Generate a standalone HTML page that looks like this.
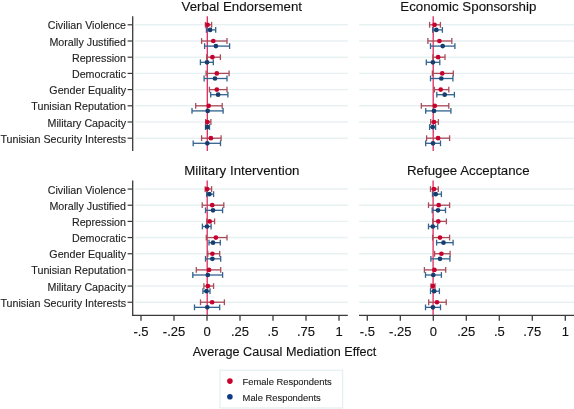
<!DOCTYPE html>
<html><head><meta charset="utf-8"><style>
html,body{margin:0;padding:0;background:#fff;width:574px;height:409px;overflow:hidden}
svg{display:block;filter:blur(0.35px);font-family:"Liberation Sans",sans-serif}
</style></head><body>
<svg width="574" height="409" viewBox="0 0 574 409">
<rect width="574" height="409" fill="#fff"/>
<text x="241.8" y="11.2" font-size="13.3" text-anchor="middle" fill="#111" stroke="#111" stroke-width="0.12">Verbal Endorsement</text>
<line x1="135" y1="24.8" x2="347.8" y2="24.8" stroke="#e8f1f2" stroke-width="1.4"/>
<line x1="135" y1="41.0" x2="347.8" y2="41.0" stroke="#e8f1f2" stroke-width="1.4"/>
<line x1="135" y1="57.2" x2="347.8" y2="57.2" stroke="#e8f1f2" stroke-width="1.4"/>
<line x1="135" y1="73.4" x2="347.8" y2="73.4" stroke="#e8f1f2" stroke-width="1.4"/>
<line x1="135" y1="89.6" x2="347.8" y2="89.6" stroke="#e8f1f2" stroke-width="1.4"/>
<line x1="135" y1="105.8" x2="347.8" y2="105.8" stroke="#e8f1f2" stroke-width="1.4"/>
<line x1="135" y1="122.0" x2="347.8" y2="122.0" stroke="#e8f1f2" stroke-width="1.4"/>
<line x1="135" y1="138.2" x2="347.8" y2="138.2" stroke="#e8f1f2" stroke-width="1.4"/>
<line x1="207.3" y1="16.3" x2="207.3" y2="151.1" stroke="#dc2a5c" stroke-width="1.3"/>
<line x1="205.4" y1="24.8" x2="211.6" y2="24.8" stroke="#a94b58" stroke-width="1.3"/>
<line x1="205.4" y1="21.900000000000002" x2="205.4" y2="27.7" stroke="#a94b58" stroke-width="1.3"/>
<line x1="211.6" y1="21.900000000000002" x2="211.6" y2="27.7" stroke="#a94b58" stroke-width="1.3"/>
<line x1="206.4" y1="29.9" x2="215.7" y2="29.9" stroke="#32628f" stroke-width="1.3"/>
<line x1="206.4" y1="27.0" x2="206.4" y2="32.8" stroke="#32628f" stroke-width="1.3"/>
<line x1="215.7" y1="27.0" x2="215.7" y2="32.8" stroke="#32628f" stroke-width="1.3"/>
<circle cx="207.6" cy="24.8" r="2.35" fill="#c8002e"/>
<circle cx="210.1" cy="29.9" r="2.35" fill="#163d6c"/>
<line x1="201.6" y1="41.0" x2="227" y2="41.0" stroke="#a94b58" stroke-width="1.3"/>
<line x1="201.6" y1="38.1" x2="201.6" y2="43.9" stroke="#a94b58" stroke-width="1.3"/>
<line x1="227" y1="38.1" x2="227" y2="43.9" stroke="#a94b58" stroke-width="1.3"/>
<line x1="204.6" y1="46.1" x2="229.6" y2="46.1" stroke="#32628f" stroke-width="1.3"/>
<line x1="204.6" y1="43.2" x2="204.6" y2="49.0" stroke="#32628f" stroke-width="1.3"/>
<line x1="229.6" y1="43.2" x2="229.6" y2="49.0" stroke="#32628f" stroke-width="1.3"/>
<circle cx="213.3" cy="41.0" r="2.35" fill="#c8002e"/>
<circle cx="215.9" cy="46.1" r="2.35" fill="#163d6c"/>
<line x1="206.7" y1="57.2" x2="220.4" y2="57.2" stroke="#a94b58" stroke-width="1.3"/>
<line x1="206.7" y1="54.300000000000004" x2="206.7" y2="60.1" stroke="#a94b58" stroke-width="1.3"/>
<line x1="220.4" y1="54.300000000000004" x2="220.4" y2="60.1" stroke="#a94b58" stroke-width="1.3"/>
<line x1="200.4" y1="62.3" x2="213.3" y2="62.3" stroke="#32628f" stroke-width="1.3"/>
<line x1="200.4" y1="59.4" x2="200.4" y2="65.2" stroke="#32628f" stroke-width="1.3"/>
<line x1="213.3" y1="59.4" x2="213.3" y2="65.2" stroke="#32628f" stroke-width="1.3"/>
<circle cx="212.4" cy="57.2" r="2.35" fill="#c8002e"/>
<circle cx="207" cy="62.3" r="2.35" fill="#163d6c"/>
<line x1="206.1" y1="73.4" x2="229.1" y2="73.4" stroke="#a94b58" stroke-width="1.3"/>
<line x1="206.1" y1="70.5" x2="206.1" y2="76.30000000000001" stroke="#a94b58" stroke-width="1.3"/>
<line x1="229.1" y1="70.5" x2="229.1" y2="76.30000000000001" stroke="#a94b58" stroke-width="1.3"/>
<line x1="204.1" y1="78.5" x2="227" y2="78.5" stroke="#32628f" stroke-width="1.3"/>
<line x1="204.1" y1="75.6" x2="204.1" y2="81.4" stroke="#32628f" stroke-width="1.3"/>
<line x1="227" y1="75.6" x2="227" y2="81.4" stroke="#32628f" stroke-width="1.3"/>
<circle cx="216.8" cy="73.4" r="2.35" fill="#c8002e"/>
<circle cx="215" cy="78.5" r="2.35" fill="#163d6c"/>
<line x1="209.4" y1="89.6" x2="227" y2="89.6" stroke="#a94b58" stroke-width="1.3"/>
<line x1="209.4" y1="86.69999999999999" x2="209.4" y2="92.5" stroke="#a94b58" stroke-width="1.3"/>
<line x1="227" y1="86.69999999999999" x2="227" y2="92.5" stroke="#a94b58" stroke-width="1.3"/>
<line x1="210.7" y1="94.7" x2="227.9" y2="94.7" stroke="#32628f" stroke-width="1.3"/>
<line x1="210.7" y1="91.8" x2="210.7" y2="97.60000000000001" stroke="#32628f" stroke-width="1.3"/>
<line x1="227.9" y1="91.8" x2="227.9" y2="97.60000000000001" stroke="#32628f" stroke-width="1.3"/>
<circle cx="216.8" cy="89.6" r="2.35" fill="#c8002e"/>
<circle cx="218.1" cy="94.7" r="2.35" fill="#163d6c"/>
<line x1="195.7" y1="105.8" x2="222.2" y2="105.8" stroke="#a94b58" stroke-width="1.3"/>
<line x1="195.7" y1="102.89999999999999" x2="195.7" y2="108.7" stroke="#a94b58" stroke-width="1.3"/>
<line x1="222.2" y1="102.89999999999999" x2="222.2" y2="108.7" stroke="#a94b58" stroke-width="1.3"/>
<line x1="192" y1="110.9" x2="223.1" y2="110.9" stroke="#32628f" stroke-width="1.3"/>
<line x1="192" y1="108.0" x2="192" y2="113.80000000000001" stroke="#32628f" stroke-width="1.3"/>
<line x1="223.1" y1="108.0" x2="223.1" y2="113.80000000000001" stroke="#32628f" stroke-width="1.3"/>
<circle cx="208.7" cy="105.8" r="2.35" fill="#c8002e"/>
<circle cx="207.7" cy="110.9" r="2.35" fill="#163d6c"/>
<line x1="205.7" y1="122.0" x2="210.9" y2="122.0" stroke="#a94b58" stroke-width="1.3"/>
<line x1="205.7" y1="119.1" x2="205.7" y2="124.9" stroke="#a94b58" stroke-width="1.3"/>
<line x1="210.9" y1="119.1" x2="210.9" y2="124.9" stroke="#a94b58" stroke-width="1.3"/>
<line x1="205.5" y1="127.1" x2="209.5" y2="127.1" stroke="#32628f" stroke-width="1.3"/>
<line x1="205.5" y1="124.19999999999999" x2="205.5" y2="130.0" stroke="#32628f" stroke-width="1.3"/>
<line x1="209.5" y1="124.19999999999999" x2="209.5" y2="130.0" stroke="#32628f" stroke-width="1.3"/>
<circle cx="207.4" cy="122.0" r="2.35" fill="#c8002e"/>
<circle cx="207.4" cy="127.1" r="2.35" fill="#163d6c"/>
<line x1="201.6" y1="138.2" x2="221.1" y2="138.2" stroke="#a94b58" stroke-width="1.3"/>
<line x1="201.6" y1="135.29999999999998" x2="201.6" y2="141.1" stroke="#a94b58" stroke-width="1.3"/>
<line x1="221.1" y1="135.29999999999998" x2="221.1" y2="141.1" stroke="#a94b58" stroke-width="1.3"/>
<line x1="193.2" y1="143.3" x2="220.5" y2="143.3" stroke="#32628f" stroke-width="1.3"/>
<line x1="193.2" y1="140.4" x2="193.2" y2="146.20000000000002" stroke="#32628f" stroke-width="1.3"/>
<line x1="220.5" y1="140.4" x2="220.5" y2="146.20000000000002" stroke="#32628f" stroke-width="1.3"/>
<circle cx="210.9" cy="138.2" r="2.35" fill="#c8002e"/>
<circle cx="207.3" cy="143.3" r="2.35" fill="#163d6c"/>
<line x1="132.7" y1="16.3" x2="132.7" y2="151.1" stroke="#3a3a3a" stroke-width="1.3"/>
<line x1="127.6" y1="24.8" x2="132.7" y2="24.8" stroke="#3a3a3a" stroke-width="1.2"/>
<text x="126" y="29.3" font-size="10.7" text-anchor="end" fill="#1e1e1e" stroke="#1e1e1e" stroke-width="0.12">Civilian Violence</text>
<line x1="127.6" y1="41.0" x2="132.7" y2="41.0" stroke="#3a3a3a" stroke-width="1.2"/>
<text x="126" y="45.5" font-size="10.7" text-anchor="end" fill="#1e1e1e" stroke="#1e1e1e" stroke-width="0.12">Morally Justified</text>
<line x1="127.6" y1="57.2" x2="132.7" y2="57.2" stroke="#3a3a3a" stroke-width="1.2"/>
<text x="126" y="61.7" font-size="10.7" text-anchor="end" fill="#1e1e1e" stroke="#1e1e1e" stroke-width="0.12">Repression</text>
<line x1="127.6" y1="73.4" x2="132.7" y2="73.4" stroke="#3a3a3a" stroke-width="1.2"/>
<text x="126" y="77.9" font-size="10.7" text-anchor="end" fill="#1e1e1e" stroke="#1e1e1e" stroke-width="0.12">Democratic</text>
<line x1="127.6" y1="89.6" x2="132.7" y2="89.6" stroke="#3a3a3a" stroke-width="1.2"/>
<text x="126" y="94.1" font-size="10.7" text-anchor="end" fill="#1e1e1e" stroke="#1e1e1e" stroke-width="0.12">Gender Equality</text>
<line x1="127.6" y1="105.8" x2="132.7" y2="105.8" stroke="#3a3a3a" stroke-width="1.2"/>
<text x="126" y="110.3" font-size="10.7" text-anchor="end" fill="#1e1e1e" stroke="#1e1e1e" stroke-width="0.12">Tunisian Reputation</text>
<line x1="127.6" y1="122.0" x2="132.7" y2="122.0" stroke="#3a3a3a" stroke-width="1.2"/>
<text x="126" y="126.5" font-size="10.7" text-anchor="end" fill="#1e1e1e" stroke="#1e1e1e" stroke-width="0.12">Military Capacity</text>
<line x1="127.6" y1="138.2" x2="132.7" y2="138.2" stroke="#3a3a3a" stroke-width="1.2"/>
<text x="126" y="142.7" font-size="10.7" text-anchor="end" fill="#1e1e1e" stroke="#1e1e1e" stroke-width="0.12">Tunisian Security Interests</text>
<text x="468.3" y="11.2" font-size="13.3" text-anchor="middle" fill="#111" stroke="#111" stroke-width="0.12">Economic Sponsorship</text>
<line x1="359" y1="24.8" x2="574" y2="24.8" stroke="#e8f1f2" stroke-width="1.4"/>
<line x1="359" y1="41.0" x2="574" y2="41.0" stroke="#e8f1f2" stroke-width="1.4"/>
<line x1="359" y1="57.2" x2="574" y2="57.2" stroke="#e8f1f2" stroke-width="1.4"/>
<line x1="359" y1="73.4" x2="574" y2="73.4" stroke="#e8f1f2" stroke-width="1.4"/>
<line x1="359" y1="89.6" x2="574" y2="89.6" stroke="#e8f1f2" stroke-width="1.4"/>
<line x1="359" y1="105.8" x2="574" y2="105.8" stroke="#e8f1f2" stroke-width="1.4"/>
<line x1="359" y1="122.0" x2="574" y2="122.0" stroke="#e8f1f2" stroke-width="1.4"/>
<line x1="359" y1="138.2" x2="574" y2="138.2" stroke="#e8f1f2" stroke-width="1.4"/>
<line x1="433.2" y1="16.3" x2="433.2" y2="151.1" stroke="#dc2a5c" stroke-width="1.3"/>
<line x1="429.6" y1="24.8" x2="440.4" y2="24.8" stroke="#a94b58" stroke-width="1.3"/>
<line x1="429.6" y1="21.900000000000002" x2="429.6" y2="27.7" stroke="#a94b58" stroke-width="1.3"/>
<line x1="440.4" y1="21.900000000000002" x2="440.4" y2="27.7" stroke="#a94b58" stroke-width="1.3"/>
<line x1="432.7" y1="29.9" x2="442.4" y2="29.9" stroke="#32628f" stroke-width="1.3"/>
<line x1="432.7" y1="27.0" x2="432.7" y2="32.8" stroke="#32628f" stroke-width="1.3"/>
<line x1="442.4" y1="27.0" x2="442.4" y2="32.8" stroke="#32628f" stroke-width="1.3"/>
<circle cx="434.6" cy="24.8" r="2.35" fill="#c8002e"/>
<circle cx="436.3" cy="29.9" r="2.35" fill="#163d6c"/>
<line x1="427.9" y1="41.0" x2="451.8" y2="41.0" stroke="#a94b58" stroke-width="1.3"/>
<line x1="427.9" y1="38.1" x2="427.9" y2="43.9" stroke="#a94b58" stroke-width="1.3"/>
<line x1="451.8" y1="38.1" x2="451.8" y2="43.9" stroke="#a94b58" stroke-width="1.3"/>
<line x1="430.5" y1="46.1" x2="454.9" y2="46.1" stroke="#32628f" stroke-width="1.3"/>
<line x1="430.5" y1="43.2" x2="430.5" y2="49.0" stroke="#32628f" stroke-width="1.3"/>
<line x1="454.9" y1="43.2" x2="454.9" y2="49.0" stroke="#32628f" stroke-width="1.3"/>
<circle cx="439.4" cy="41.0" r="2.35" fill="#c8002e"/>
<circle cx="442.7" cy="46.1" r="2.35" fill="#163d6c"/>
<line x1="432.9" y1="57.2" x2="445" y2="57.2" stroke="#a94b58" stroke-width="1.3"/>
<line x1="432.9" y1="54.300000000000004" x2="432.9" y2="60.1" stroke="#a94b58" stroke-width="1.3"/>
<line x1="445" y1="54.300000000000004" x2="445" y2="60.1" stroke="#a94b58" stroke-width="1.3"/>
<line x1="426.3" y1="62.3" x2="439.8" y2="62.3" stroke="#32628f" stroke-width="1.3"/>
<line x1="426.3" y1="59.4" x2="426.3" y2="65.2" stroke="#32628f" stroke-width="1.3"/>
<line x1="439.8" y1="59.4" x2="439.8" y2="65.2" stroke="#32628f" stroke-width="1.3"/>
<circle cx="438.1" cy="57.2" r="2.35" fill="#c8002e"/>
<circle cx="432.9" cy="62.3" r="2.35" fill="#163d6c"/>
<line x1="432.4" y1="73.4" x2="453.3" y2="73.4" stroke="#a94b58" stroke-width="1.3"/>
<line x1="432.4" y1="70.5" x2="432.4" y2="76.30000000000001" stroke="#a94b58" stroke-width="1.3"/>
<line x1="453.3" y1="70.5" x2="453.3" y2="76.30000000000001" stroke="#a94b58" stroke-width="1.3"/>
<line x1="430.5" y1="78.5" x2="452.9" y2="78.5" stroke="#32628f" stroke-width="1.3"/>
<line x1="430.5" y1="75.6" x2="430.5" y2="81.4" stroke="#32628f" stroke-width="1.3"/>
<line x1="452.9" y1="75.6" x2="452.9" y2="81.4" stroke="#32628f" stroke-width="1.3"/>
<circle cx="442.2" cy="73.4" r="2.35" fill="#c8002e"/>
<circle cx="441.3" cy="78.5" r="2.35" fill="#163d6c"/>
<line x1="434.4" y1="89.6" x2="448.8" y2="89.6" stroke="#a94b58" stroke-width="1.3"/>
<line x1="434.4" y1="86.69999999999999" x2="434.4" y2="92.5" stroke="#a94b58" stroke-width="1.3"/>
<line x1="448.8" y1="86.69999999999999" x2="448.8" y2="92.5" stroke="#a94b58" stroke-width="1.3"/>
<line x1="436.8" y1="94.7" x2="454.4" y2="94.7" stroke="#32628f" stroke-width="1.3"/>
<line x1="436.8" y1="91.8" x2="436.8" y2="97.60000000000001" stroke="#32628f" stroke-width="1.3"/>
<line x1="454.4" y1="91.8" x2="454.4" y2="97.60000000000001" stroke="#32628f" stroke-width="1.3"/>
<circle cx="440.7" cy="89.6" r="2.35" fill="#c8002e"/>
<circle cx="444.7" cy="94.7" r="2.35" fill="#163d6c"/>
<line x1="421.3" y1="105.8" x2="448.8" y2="105.8" stroke="#a94b58" stroke-width="1.3"/>
<line x1="421.3" y1="102.89999999999999" x2="421.3" y2="108.7" stroke="#a94b58" stroke-width="1.3"/>
<line x1="448.8" y1="102.89999999999999" x2="448.8" y2="108.7" stroke="#a94b58" stroke-width="1.3"/>
<line x1="425.7" y1="110.9" x2="450.9" y2="110.9" stroke="#32628f" stroke-width="1.3"/>
<line x1="425.7" y1="108.0" x2="425.7" y2="113.80000000000001" stroke="#32628f" stroke-width="1.3"/>
<line x1="450.9" y1="108.0" x2="450.9" y2="113.80000000000001" stroke="#32628f" stroke-width="1.3"/>
<circle cx="434.8" cy="105.8" r="2.35" fill="#c8002e"/>
<circle cx="434" cy="110.9" r="2.35" fill="#163d6c"/>
<line x1="430.7" y1="122.0" x2="438.4" y2="122.0" stroke="#a94b58" stroke-width="1.3"/>
<line x1="430.7" y1="119.1" x2="430.7" y2="124.9" stroke="#a94b58" stroke-width="1.3"/>
<line x1="438.4" y1="119.1" x2="438.4" y2="124.9" stroke="#a94b58" stroke-width="1.3"/>
<line x1="429.6" y1="127.1" x2="435.6" y2="127.1" stroke="#32628f" stroke-width="1.3"/>
<line x1="429.6" y1="124.19999999999999" x2="429.6" y2="130.0" stroke="#32628f" stroke-width="1.3"/>
<line x1="435.6" y1="124.19999999999999" x2="435.6" y2="130.0" stroke="#32628f" stroke-width="1.3"/>
<circle cx="434" cy="122.0" r="2.35" fill="#c8002e"/>
<circle cx="432.7" cy="127.1" r="2.35" fill="#163d6c"/>
<line x1="426.6" y1="138.2" x2="449.6" y2="138.2" stroke="#a94b58" stroke-width="1.3"/>
<line x1="426.6" y1="135.29999999999998" x2="426.6" y2="141.1" stroke="#a94b58" stroke-width="1.3"/>
<line x1="449.6" y1="135.29999999999998" x2="449.6" y2="141.1" stroke="#a94b58" stroke-width="1.3"/>
<line x1="425.7" y1="143.3" x2="440.5" y2="143.3" stroke="#32628f" stroke-width="1.3"/>
<line x1="425.7" y1="140.4" x2="425.7" y2="146.20000000000002" stroke="#32628f" stroke-width="1.3"/>
<line x1="440.5" y1="140.4" x2="440.5" y2="146.20000000000002" stroke="#32628f" stroke-width="1.3"/>
<circle cx="438.1" cy="138.2" r="2.35" fill="#c8002e"/>
<circle cx="433" cy="143.3" r="2.35" fill="#163d6c"/>
<text x="241.8" y="175.2" font-size="13.3" text-anchor="middle" fill="#111" stroke="#111" stroke-width="0.12">Military Intervention</text>
<line x1="135" y1="189.05" x2="347.8" y2="189.05" stroke="#e8f1f2" stroke-width="1.4"/>
<line x1="135" y1="205.22" x2="347.8" y2="205.22" stroke="#e8f1f2" stroke-width="1.4"/>
<line x1="135" y1="221.39" x2="347.8" y2="221.39" stroke="#e8f1f2" stroke-width="1.4"/>
<line x1="135" y1="237.56" x2="347.8" y2="237.56" stroke="#e8f1f2" stroke-width="1.4"/>
<line x1="135" y1="253.73" x2="347.8" y2="253.73" stroke="#e8f1f2" stroke-width="1.4"/>
<line x1="135" y1="269.9" x2="347.8" y2="269.9" stroke="#e8f1f2" stroke-width="1.4"/>
<line x1="135" y1="286.07" x2="347.8" y2="286.07" stroke="#e8f1f2" stroke-width="1.4"/>
<line x1="135" y1="302.24" x2="347.8" y2="302.24" stroke="#e8f1f2" stroke-width="1.4"/>
<line x1="207.2" y1="180.4" x2="207.2" y2="315.4" stroke="#dc2a5c" stroke-width="1.3"/>
<line x1="205.2" y1="189.05" x2="211.6" y2="189.05" stroke="#a94b58" stroke-width="1.3"/>
<line x1="205.2" y1="186.15" x2="205.2" y2="191.95000000000002" stroke="#a94b58" stroke-width="1.3"/>
<line x1="211.6" y1="186.15" x2="211.6" y2="191.95000000000002" stroke="#a94b58" stroke-width="1.3"/>
<line x1="206.6" y1="194.15" x2="213.6" y2="194.15" stroke="#32628f" stroke-width="1.3"/>
<line x1="206.6" y1="191.25" x2="206.6" y2="197.05" stroke="#32628f" stroke-width="1.3"/>
<line x1="213.6" y1="191.25" x2="213.6" y2="197.05" stroke="#32628f" stroke-width="1.3"/>
<circle cx="207.2" cy="189.05" r="2.35" fill="#c8002e"/>
<circle cx="209.4" cy="194.15" r="2.35" fill="#163d6c"/>
<line x1="202.2" y1="205.22" x2="223.8" y2="205.22" stroke="#a94b58" stroke-width="1.3"/>
<line x1="202.2" y1="202.32" x2="202.2" y2="208.12" stroke="#a94b58" stroke-width="1.3"/>
<line x1="223.8" y1="202.32" x2="223.8" y2="208.12" stroke="#a94b58" stroke-width="1.3"/>
<line x1="205.5" y1="210.32" x2="222.6" y2="210.32" stroke="#32628f" stroke-width="1.3"/>
<line x1="205.5" y1="207.42" x2="205.5" y2="213.22" stroke="#32628f" stroke-width="1.3"/>
<line x1="222.6" y1="207.42" x2="222.6" y2="213.22" stroke="#32628f" stroke-width="1.3"/>
<circle cx="212.2" cy="205.22" r="2.35" fill="#c8002e"/>
<circle cx="213" cy="210.32" r="2.35" fill="#163d6c"/>
<line x1="206.8" y1="221.39" x2="214.6" y2="221.39" stroke="#a94b58" stroke-width="1.3"/>
<line x1="206.8" y1="218.48999999999998" x2="206.8" y2="224.29" stroke="#a94b58" stroke-width="1.3"/>
<line x1="214.6" y1="218.48999999999998" x2="214.6" y2="224.29" stroke="#a94b58" stroke-width="1.3"/>
<line x1="202.4" y1="226.49" x2="211.1" y2="226.49" stroke="#32628f" stroke-width="1.3"/>
<line x1="202.4" y1="223.59" x2="202.4" y2="229.39000000000001" stroke="#32628f" stroke-width="1.3"/>
<line x1="211.1" y1="223.59" x2="211.1" y2="229.39000000000001" stroke="#32628f" stroke-width="1.3"/>
<circle cx="209.7" cy="221.39" r="2.35" fill="#c8002e"/>
<circle cx="207" cy="226.49" r="2.35" fill="#163d6c"/>
<line x1="206.3" y1="237.56" x2="227" y2="237.56" stroke="#a94b58" stroke-width="1.3"/>
<line x1="206.3" y1="234.66" x2="206.3" y2="240.46" stroke="#a94b58" stroke-width="1.3"/>
<line x1="227" y1="234.66" x2="227" y2="240.46" stroke="#a94b58" stroke-width="1.3"/>
<line x1="209" y1="242.66" x2="220.3" y2="242.66" stroke="#32628f" stroke-width="1.3"/>
<line x1="209" y1="239.76" x2="209" y2="245.56" stroke="#32628f" stroke-width="1.3"/>
<line x1="220.3" y1="239.76" x2="220.3" y2="245.56" stroke="#32628f" stroke-width="1.3"/>
<circle cx="215.9" cy="237.56" r="2.35" fill="#c8002e"/>
<circle cx="213" cy="242.66" r="2.35" fill="#163d6c"/>
<line x1="207.8" y1="253.73" x2="219.7" y2="253.73" stroke="#a94b58" stroke-width="1.3"/>
<line x1="207.8" y1="250.82999999999998" x2="207.8" y2="256.63" stroke="#a94b58" stroke-width="1.3"/>
<line x1="219.7" y1="250.82999999999998" x2="219.7" y2="256.63" stroke="#a94b58" stroke-width="1.3"/>
<line x1="205.5" y1="258.83" x2="220.7" y2="258.83" stroke="#32628f" stroke-width="1.3"/>
<line x1="205.5" y1="255.92999999999998" x2="205.5" y2="261.72999999999996" stroke="#32628f" stroke-width="1.3"/>
<line x1="220.7" y1="255.92999999999998" x2="220.7" y2="261.72999999999996" stroke="#32628f" stroke-width="1.3"/>
<circle cx="212.4" cy="253.73" r="2.35" fill="#c8002e"/>
<circle cx="212.4" cy="258.83" r="2.35" fill="#163d6c"/>
<line x1="196.3" y1="269.9" x2="220.7" y2="269.9" stroke="#a94b58" stroke-width="1.3"/>
<line x1="196.3" y1="267.0" x2="196.3" y2="272.79999999999995" stroke="#a94b58" stroke-width="1.3"/>
<line x1="220.7" y1="267.0" x2="220.7" y2="272.79999999999995" stroke="#a94b58" stroke-width="1.3"/>
<line x1="192.8" y1="275.0" x2="222.6" y2="275.0" stroke="#32628f" stroke-width="1.3"/>
<line x1="192.8" y1="272.1" x2="192.8" y2="277.9" stroke="#32628f" stroke-width="1.3"/>
<line x1="222.6" y1="272.1" x2="222.6" y2="277.9" stroke="#32628f" stroke-width="1.3"/>
<circle cx="209" cy="269.9" r="2.35" fill="#c8002e"/>
<circle cx="207.8" cy="275.0" r="2.35" fill="#163d6c"/>
<line x1="203.9" y1="286.07" x2="213.6" y2="286.07" stroke="#a94b58" stroke-width="1.3"/>
<line x1="203.9" y1="283.17" x2="203.9" y2="288.96999999999997" stroke="#a94b58" stroke-width="1.3"/>
<line x1="213.6" y1="283.17" x2="213.6" y2="288.96999999999997" stroke="#a94b58" stroke-width="1.3"/>
<line x1="202.9" y1="291.17" x2="210" y2="291.17" stroke="#32628f" stroke-width="1.3"/>
<line x1="202.9" y1="288.27000000000004" x2="202.9" y2="294.07" stroke="#32628f" stroke-width="1.3"/>
<line x1="210" y1="288.27000000000004" x2="210" y2="294.07" stroke="#32628f" stroke-width="1.3"/>
<circle cx="207.9" cy="286.07" r="2.35" fill="#c8002e"/>
<circle cx="206.5" cy="291.17" r="2.35" fill="#163d6c"/>
<line x1="200.5" y1="302.24" x2="224.4" y2="302.24" stroke="#a94b58" stroke-width="1.3"/>
<line x1="200.5" y1="299.34000000000003" x2="200.5" y2="305.14" stroke="#a94b58" stroke-width="1.3"/>
<line x1="224.4" y1="299.34000000000003" x2="224.4" y2="305.14" stroke="#a94b58" stroke-width="1.3"/>
<line x1="194.5" y1="307.34" x2="219.7" y2="307.34" stroke="#32628f" stroke-width="1.3"/>
<line x1="194.5" y1="304.44" x2="194.5" y2="310.23999999999995" stroke="#32628f" stroke-width="1.3"/>
<line x1="219.7" y1="304.44" x2="219.7" y2="310.23999999999995" stroke="#32628f" stroke-width="1.3"/>
<circle cx="212.1" cy="302.24" r="2.35" fill="#c8002e"/>
<circle cx="207.3" cy="307.34" r="2.35" fill="#163d6c"/>
<line x1="132.7" y1="180.4" x2="132.7" y2="316.04999999999995" stroke="#3a3a3a" stroke-width="1.3"/>
<line x1="127.6" y1="189.05" x2="132.7" y2="189.05" stroke="#3a3a3a" stroke-width="1.2"/>
<text x="126" y="193.55" font-size="10.7" text-anchor="end" fill="#1e1e1e" stroke="#1e1e1e" stroke-width="0.12">Civilian Violence</text>
<line x1="127.6" y1="205.22" x2="132.7" y2="205.22" stroke="#3a3a3a" stroke-width="1.2"/>
<text x="126" y="209.72" font-size="10.7" text-anchor="end" fill="#1e1e1e" stroke="#1e1e1e" stroke-width="0.12">Morally Justified</text>
<line x1="127.6" y1="221.39" x2="132.7" y2="221.39" stroke="#3a3a3a" stroke-width="1.2"/>
<text x="126" y="225.89" font-size="10.7" text-anchor="end" fill="#1e1e1e" stroke="#1e1e1e" stroke-width="0.12">Repression</text>
<line x1="127.6" y1="237.56" x2="132.7" y2="237.56" stroke="#3a3a3a" stroke-width="1.2"/>
<text x="126" y="242.06" font-size="10.7" text-anchor="end" fill="#1e1e1e" stroke="#1e1e1e" stroke-width="0.12">Democratic</text>
<line x1="127.6" y1="253.73" x2="132.7" y2="253.73" stroke="#3a3a3a" stroke-width="1.2"/>
<text x="126" y="258.23" font-size="10.7" text-anchor="end" fill="#1e1e1e" stroke="#1e1e1e" stroke-width="0.12">Gender Equality</text>
<line x1="127.6" y1="269.9" x2="132.7" y2="269.9" stroke="#3a3a3a" stroke-width="1.2"/>
<text x="126" y="274.4" font-size="10.7" text-anchor="end" fill="#1e1e1e" stroke="#1e1e1e" stroke-width="0.12">Tunisian Reputation</text>
<line x1="127.6" y1="286.07" x2="132.7" y2="286.07" stroke="#3a3a3a" stroke-width="1.2"/>
<text x="126" y="290.57" font-size="10.7" text-anchor="end" fill="#1e1e1e" stroke="#1e1e1e" stroke-width="0.12">Military Capacity</text>
<line x1="127.6" y1="302.24" x2="132.7" y2="302.24" stroke="#3a3a3a" stroke-width="1.2"/>
<text x="126" y="306.74" font-size="10.7" text-anchor="end" fill="#1e1e1e" stroke="#1e1e1e" stroke-width="0.12">Tunisian Security Interests</text>
<line x1="132.05" y1="315.4" x2="347.8" y2="315.4" stroke="#3a3a3a" stroke-width="1.3"/>
<line x1="141" y1="315.4" x2="141" y2="320.7" stroke="#3a3a3a" stroke-width="1.3"/>
<text x="141" y="336.2" font-size="13" text-anchor="middle" fill="#111" stroke="#111" stroke-width="0.12">-.5</text>
<line x1="174" y1="315.4" x2="174" y2="320.7" stroke="#3a3a3a" stroke-width="1.3"/>
<text x="174" y="336.2" font-size="13" text-anchor="middle" fill="#111" stroke="#111" stroke-width="0.12">-.25</text>
<line x1="207" y1="315.4" x2="207" y2="320.7" stroke="#3a3a3a" stroke-width="1.3"/>
<text x="207" y="336.2" font-size="13" text-anchor="middle" fill="#111" stroke="#111" stroke-width="0.12">0</text>
<line x1="240" y1="315.4" x2="240" y2="320.7" stroke="#3a3a3a" stroke-width="1.3"/>
<text x="240" y="336.2" font-size="13" text-anchor="middle" fill="#111" stroke="#111" stroke-width="0.12">.25</text>
<line x1="273" y1="315.4" x2="273" y2="320.7" stroke="#3a3a3a" stroke-width="1.3"/>
<text x="273" y="336.2" font-size="13" text-anchor="middle" fill="#111" stroke="#111" stroke-width="0.12">.5</text>
<line x1="306" y1="315.4" x2="306" y2="320.7" stroke="#3a3a3a" stroke-width="1.3"/>
<text x="306" y="336.2" font-size="13" text-anchor="middle" fill="#111" stroke="#111" stroke-width="0.12">.75</text>
<line x1="339" y1="315.4" x2="339" y2="320.7" stroke="#3a3a3a" stroke-width="1.3"/>
<text x="339" y="336.2" font-size="13" text-anchor="middle" fill="#111" stroke="#111" stroke-width="0.12">1</text>
<text x="468.3" y="175.2" font-size="13.3" text-anchor="middle" fill="#111" stroke="#111" stroke-width="0.12">Refugee Acceptance</text>
<line x1="359" y1="189.05" x2="574" y2="189.05" stroke="#e8f1f2" stroke-width="1.4"/>
<line x1="359" y1="205.22" x2="574" y2="205.22" stroke="#e8f1f2" stroke-width="1.4"/>
<line x1="359" y1="221.39" x2="574" y2="221.39" stroke="#e8f1f2" stroke-width="1.4"/>
<line x1="359" y1="237.56" x2="574" y2="237.56" stroke="#e8f1f2" stroke-width="1.4"/>
<line x1="359" y1="253.73" x2="574" y2="253.73" stroke="#e8f1f2" stroke-width="1.4"/>
<line x1="359" y1="269.9" x2="574" y2="269.9" stroke="#e8f1f2" stroke-width="1.4"/>
<line x1="359" y1="286.07" x2="574" y2="286.07" stroke="#e8f1f2" stroke-width="1.4"/>
<line x1="359" y1="302.24" x2="574" y2="302.24" stroke="#e8f1f2" stroke-width="1.4"/>
<line x1="433.1" y1="180.4" x2="433.1" y2="315.4" stroke="#dc2a5c" stroke-width="1.3"/>
<line x1="430.5" y1="189.05" x2="438.3" y2="189.05" stroke="#a94b58" stroke-width="1.3"/>
<line x1="430.5" y1="186.15" x2="430.5" y2="191.95000000000002" stroke="#a94b58" stroke-width="1.3"/>
<line x1="438.3" y1="186.15" x2="438.3" y2="191.95000000000002" stroke="#a94b58" stroke-width="1.3"/>
<line x1="432.5" y1="194.15" x2="441.4" y2="194.15" stroke="#32628f" stroke-width="1.3"/>
<line x1="432.5" y1="191.25" x2="432.5" y2="197.05" stroke="#32628f" stroke-width="1.3"/>
<line x1="441.4" y1="191.25" x2="441.4" y2="197.05" stroke="#32628f" stroke-width="1.3"/>
<circle cx="434" cy="189.05" r="2.35" fill="#c8002e"/>
<circle cx="435.7" cy="194.15" r="2.35" fill="#163d6c"/>
<line x1="428.5" y1="205.22" x2="449.6" y2="205.22" stroke="#a94b58" stroke-width="1.3"/>
<line x1="428.5" y1="202.32" x2="428.5" y2="208.12" stroke="#a94b58" stroke-width="1.3"/>
<line x1="449.6" y1="202.32" x2="449.6" y2="208.12" stroke="#a94b58" stroke-width="1.3"/>
<line x1="432.2" y1="210.32" x2="445.5" y2="210.32" stroke="#32628f" stroke-width="1.3"/>
<line x1="432.2" y1="207.42" x2="432.2" y2="213.22" stroke="#32628f" stroke-width="1.3"/>
<line x1="445.5" y1="207.42" x2="445.5" y2="213.22" stroke="#32628f" stroke-width="1.3"/>
<circle cx="438.7" cy="205.22" r="2.35" fill="#c8002e"/>
<circle cx="438" cy="210.32" r="2.35" fill="#163d6c"/>
<line x1="432.8" y1="221.39" x2="446.4" y2="221.39" stroke="#a94b58" stroke-width="1.3"/>
<line x1="432.8" y1="218.48999999999998" x2="432.8" y2="224.29" stroke="#a94b58" stroke-width="1.3"/>
<line x1="446.4" y1="218.48999999999998" x2="446.4" y2="224.29" stroke="#a94b58" stroke-width="1.3"/>
<line x1="428.5" y1="226.49" x2="437.7" y2="226.49" stroke="#32628f" stroke-width="1.3"/>
<line x1="428.5" y1="223.59" x2="428.5" y2="229.39000000000001" stroke="#32628f" stroke-width="1.3"/>
<line x1="437.7" y1="223.59" x2="437.7" y2="229.39000000000001" stroke="#32628f" stroke-width="1.3"/>
<circle cx="438.3" cy="221.39" r="2.35" fill="#c8002e"/>
<circle cx="432.8" cy="226.49" r="2.35" fill="#163d6c"/>
<line x1="432.6" y1="237.56" x2="449.6" y2="237.56" stroke="#a94b58" stroke-width="1.3"/>
<line x1="432.6" y1="234.66" x2="432.6" y2="240.46" stroke="#a94b58" stroke-width="1.3"/>
<line x1="449.6" y1="234.66" x2="449.6" y2="240.46" stroke="#a94b58" stroke-width="1.3"/>
<line x1="436.6" y1="242.66" x2="453.1" y2="242.66" stroke="#32628f" stroke-width="1.3"/>
<line x1="436.6" y1="239.76" x2="436.6" y2="245.56" stroke="#32628f" stroke-width="1.3"/>
<line x1="453.1" y1="239.76" x2="453.1" y2="245.56" stroke="#32628f" stroke-width="1.3"/>
<circle cx="440" cy="237.56" r="2.35" fill="#c8002e"/>
<circle cx="443.5" cy="242.66" r="2.35" fill="#163d6c"/>
<line x1="434.6" y1="253.73" x2="450.1" y2="253.73" stroke="#a94b58" stroke-width="1.3"/>
<line x1="434.6" y1="250.82999999999998" x2="434.6" y2="256.63" stroke="#a94b58" stroke-width="1.3"/>
<line x1="450.1" y1="250.82999999999998" x2="450.1" y2="256.63" stroke="#a94b58" stroke-width="1.3"/>
<line x1="430.9" y1="258.83" x2="449.9" y2="258.83" stroke="#32628f" stroke-width="1.3"/>
<line x1="430.9" y1="255.92999999999998" x2="430.9" y2="261.72999999999996" stroke="#32628f" stroke-width="1.3"/>
<line x1="449.9" y1="255.92999999999998" x2="449.9" y2="261.72999999999996" stroke="#32628f" stroke-width="1.3"/>
<circle cx="441.4" cy="253.73" r="2.35" fill="#c8002e"/>
<circle cx="440" cy="258.83" r="2.35" fill="#163d6c"/>
<line x1="424.4" y1="269.9" x2="445.7" y2="269.9" stroke="#a94b58" stroke-width="1.3"/>
<line x1="424.4" y1="267.0" x2="424.4" y2="272.79999999999995" stroke="#a94b58" stroke-width="1.3"/>
<line x1="445.7" y1="267.0" x2="445.7" y2="272.79999999999995" stroke="#a94b58" stroke-width="1.3"/>
<line x1="425.5" y1="275.0" x2="441.4" y2="275.0" stroke="#32628f" stroke-width="1.3"/>
<line x1="425.5" y1="272.1" x2="425.5" y2="277.9" stroke="#32628f" stroke-width="1.3"/>
<line x1="441.4" y1="272.1" x2="441.4" y2="277.9" stroke="#32628f" stroke-width="1.3"/>
<circle cx="434.4" cy="269.9" r="2.35" fill="#c8002e"/>
<circle cx="433.3" cy="275.0" r="2.35" fill="#163d6c"/>
<line x1="431" y1="286.07" x2="435" y2="286.07" stroke="#a94b58" stroke-width="1.3"/>
<line x1="431" y1="283.17" x2="431" y2="288.96999999999997" stroke="#a94b58" stroke-width="1.3"/>
<line x1="435" y1="283.17" x2="435" y2="288.96999999999997" stroke="#a94b58" stroke-width="1.3"/>
<line x1="430.5" y1="291.17" x2="439.4" y2="291.17" stroke="#32628f" stroke-width="1.3"/>
<line x1="430.5" y1="288.27000000000004" x2="430.5" y2="294.07" stroke="#32628f" stroke-width="1.3"/>
<line x1="439.4" y1="288.27000000000004" x2="439.4" y2="294.07" stroke="#32628f" stroke-width="1.3"/>
<circle cx="432.8" cy="286.07" r="2.35" fill="#c8002e"/>
<circle cx="434.2" cy="291.17" r="2.35" fill="#163d6c"/>
<line x1="428.7" y1="302.24" x2="446.2" y2="302.24" stroke="#a94b58" stroke-width="1.3"/>
<line x1="428.7" y1="299.34000000000003" x2="428.7" y2="305.14" stroke="#a94b58" stroke-width="1.3"/>
<line x1="446.2" y1="299.34000000000003" x2="446.2" y2="305.14" stroke="#a94b58" stroke-width="1.3"/>
<line x1="425.5" y1="307.34" x2="440.5" y2="307.34" stroke="#32628f" stroke-width="1.3"/>
<line x1="425.5" y1="304.44" x2="425.5" y2="310.23999999999995" stroke="#32628f" stroke-width="1.3"/>
<line x1="440.5" y1="304.44" x2="440.5" y2="310.23999999999995" stroke="#32628f" stroke-width="1.3"/>
<circle cx="437" cy="302.24" r="2.35" fill="#c8002e"/>
<circle cx="432.9" cy="307.34" r="2.35" fill="#163d6c"/>
<line x1="359" y1="315.4" x2="574" y2="315.4" stroke="#3a3a3a" stroke-width="1.3"/>
<line x1="367.3" y1="315.4" x2="367.3" y2="320.7" stroke="#3a3a3a" stroke-width="1.3"/>
<text x="367.3" y="336.2" font-size="13" text-anchor="middle" fill="#111" stroke="#111" stroke-width="0.12">-.5</text>
<line x1="400.3" y1="315.4" x2="400.3" y2="320.7" stroke="#3a3a3a" stroke-width="1.3"/>
<text x="400.3" y="336.2" font-size="13" text-anchor="middle" fill="#111" stroke="#111" stroke-width="0.12">-.25</text>
<line x1="433.3" y1="315.4" x2="433.3" y2="320.7" stroke="#3a3a3a" stroke-width="1.3"/>
<text x="433.3" y="336.2" font-size="13" text-anchor="middle" fill="#111" stroke="#111" stroke-width="0.12">0</text>
<line x1="466.3" y1="315.4" x2="466.3" y2="320.7" stroke="#3a3a3a" stroke-width="1.3"/>
<text x="466.3" y="336.2" font-size="13" text-anchor="middle" fill="#111" stroke="#111" stroke-width="0.12">.25</text>
<line x1="499.3" y1="315.4" x2="499.3" y2="320.7" stroke="#3a3a3a" stroke-width="1.3"/>
<text x="499.3" y="336.2" font-size="13" text-anchor="middle" fill="#111" stroke="#111" stroke-width="0.12">.5</text>
<line x1="532.3" y1="315.4" x2="532.3" y2="320.7" stroke="#3a3a3a" stroke-width="1.3"/>
<text x="532.3" y="336.2" font-size="13" text-anchor="middle" fill="#111" stroke="#111" stroke-width="0.12">.75</text>
<line x1="565.3" y1="315.4" x2="565.3" y2="320.7" stroke="#3a3a3a" stroke-width="1.3"/>
<text x="565.3" y="336.2" font-size="13" text-anchor="middle" fill="#111" stroke="#111" stroke-width="0.12">1</text>
<text x="284.5" y="356" font-size="12.65" text-anchor="middle" fill="#111" stroke="#111" stroke-width="0.12">Average Causal Mediation Effect</text>
<rect x="219.9" y="370.2" width="122.8" height="37.8" fill="#fff" stroke="#dfebee" stroke-width="1"/>
<circle cx="229.9" cy="381.1" r="2.8" fill="#c8002e"/>
<circle cx="229.9" cy="396.7" r="2.8" fill="#0e3a85"/>
<text x="242.6" y="385.1" font-size="9.4" text-anchor="start" fill="#222" stroke="#222" stroke-width="0.12">Female Respondents</text>
<text x="242.6" y="400.7" font-size="9.4" text-anchor="start" fill="#222" stroke="#222" stroke-width="0.12">Male Respondents</text>
</svg>
</body></html>
